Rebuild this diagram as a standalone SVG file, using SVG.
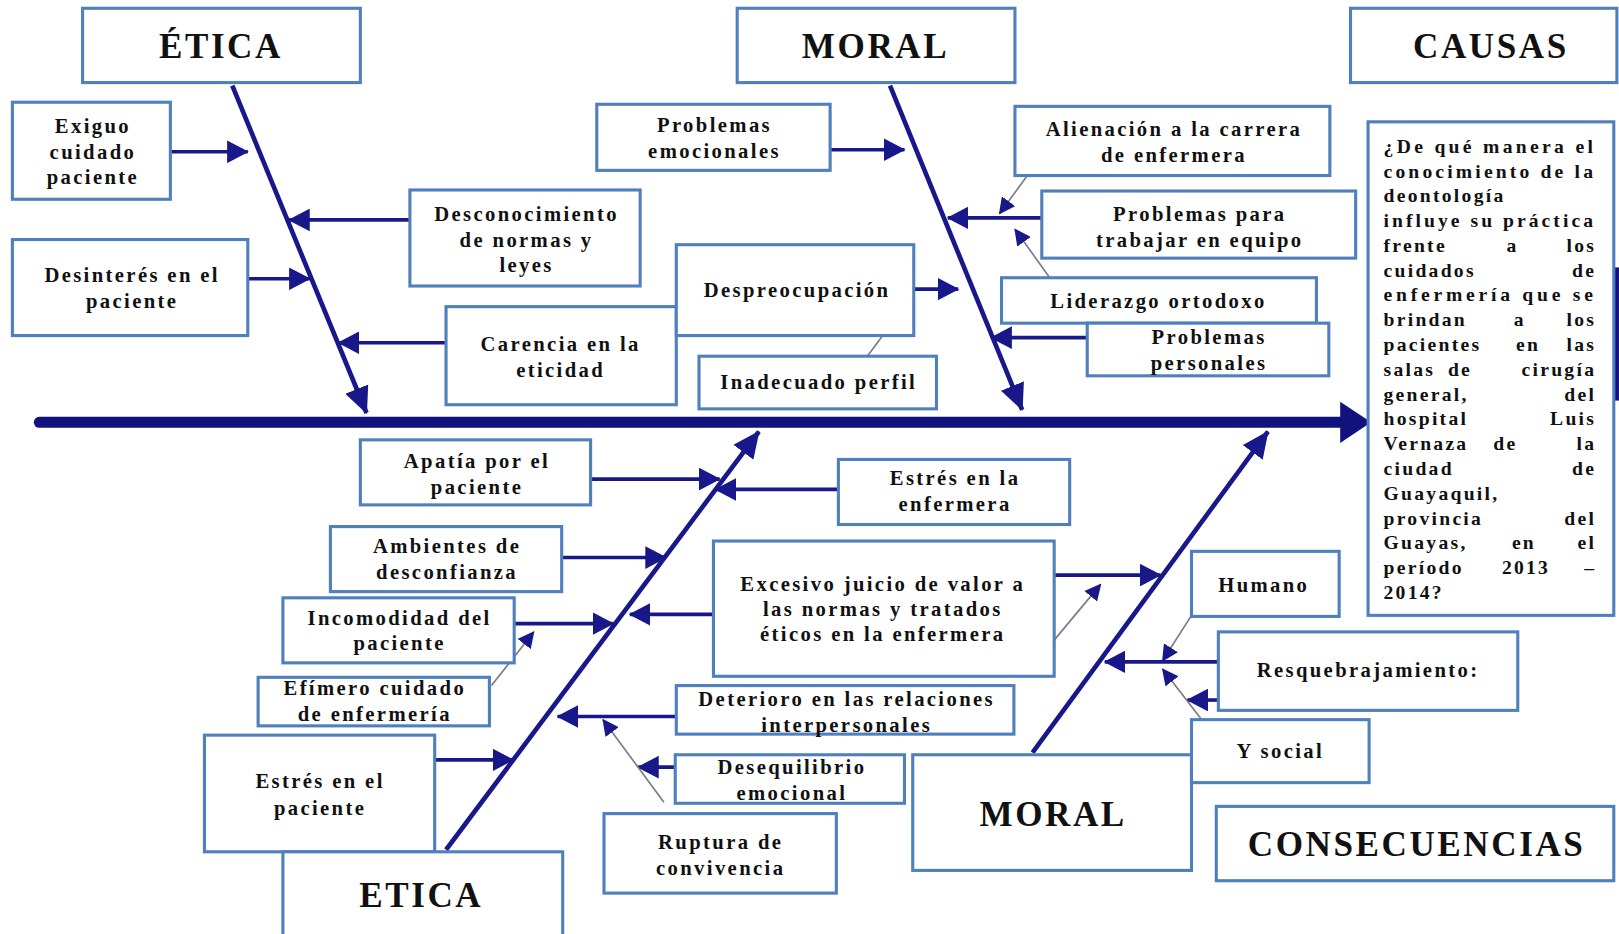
<svg xmlns="http://www.w3.org/2000/svg" width="1619" height="934" viewBox="0 0 1619 934">
<style>
.b{fill:#fff;stroke:#4f7fbd;stroke-width:3}
.t{font-family:"Liberation Serif","Times New Roman",serif;font-weight:bold;font-size:20px;letter-spacing:2.3px;fill:#111;text-anchor:middle}
.h{font-family:"Liberation Serif","Times New Roman",serif;font-weight:bold;font-size:34px;letter-spacing:2.5px;fill:#111;text-anchor:middle}
.q{font-family:"Liberation Serif","Times New Roman",serif;font-weight:bold;font-size:19px;letter-spacing:2.2px;fill:#111}
.br{fill:none;stroke:#18188a;stroke-width:3.5}
.sp{fill:none;stroke:#18188a;stroke-width:4.5}
.th{fill:none;stroke:#7a7a88;stroke-width:1.6}
</style>
<defs>
<marker id="a" markerUnits="userSpaceOnUse" viewBox="0 0 21 22" markerWidth="21" markerHeight="22" refX="20" refY="11" orient="auto"><path d="M0,0 L21,11 L0,22 z" fill="#18188a"/></marker>
<marker id="s" markerUnits="userSpaceOnUse" viewBox="0 0 26 24" markerWidth="26" markerHeight="24" refX="25" refY="12" orient="auto"><path d="M0,0 L26,12 L0,24 z" fill="#18188a"/></marker>
<marker id="m" markerUnits="userSpaceOnUse" viewBox="0 0 16 16" markerWidth="16" markerHeight="16" refX="15" refY="8" orient="auto"><path d="M0,0 L16,8 L0,16 z" fill="#18188a"/></marker>
</defs>
<rect width="1619" height="934" fill="#fff"/>
<g transform="scale(1.0325)">
<g id="connectors">
<path class="sp" d="M225,83 L355,400" marker-end="url(#s)"/>
<path class="sp" d="M862,83 L990,397" marker-end="url(#s)"/>
<path class="sp" d="M432,823 L735,418" marker-end="url(#s)"/>
<path class="sp" d="M1000,729 L1228,418" marker-end="url(#s)"/>
<path d="M38,409 H1302" fill="none" stroke="#12127e" stroke-width="10.5" stroke-linecap="round"/>
<polygon points="1298,389 1328,409 1298,429" fill="#12127e"/>
<path class="br" d="M165,147 H240" marker-end="url(#a)"/>
<path class="br" d="M397,213 H280" marker-end="url(#a)"/>
<path class="br" d="M240,270 H300" marker-end="url(#a)"/>
<path class="br" d="M432,332 H328" marker-end="url(#a)"/>
<path class="br" d="M804,145 H876" marker-end="url(#a)"/>
<path class="br" d="M1009,211 H918" marker-end="url(#a)"/>
<path class="br" d="M885,280 H928" marker-end="url(#a)"/>
<path class="br" d="M1053,327 H960" marker-end="url(#a)"/>
<path class="th" d="M995,170 L968,207" marker-end="url(#m)"/>
<path class="th" d="M1016,268 L983,222" marker-end="url(#m)"/>
<path class="th" d="M840,345 L855,325"/>
<path class="br" d="M572,464 H697" marker-end="url(#a)"/>
<path class="br" d="M812,474 H693" marker-end="url(#a)"/>
<path class="br" d="M544,540 H645" marker-end="url(#a)"/>
<path class="br" d="M498,604 H594" marker-end="url(#a)"/>
<path class="th" d="M476,664 L517,612" marker-end="url(#m)"/>
<path class="br" d="M691,595 H610" marker-end="url(#a)"/>
<path class="br" d="M1021,557 H1124" marker-end="url(#a)"/>
<path class="th" d="M1021,620 L1066,566" marker-end="url(#m)"/>
<path class="br" d="M655,694 H540" marker-end="url(#a)"/>
<path class="br" d="M654,743 H618" marker-end="url(#a)"/>
<path class="th" d="M643,777 L584,697" marker-end="url(#m)"/>
<path class="br" d="M421,736 H497" marker-end="url(#a)"/>
<path class="th" d="M1154,596 L1126,640" marker-end="url(#m)"/>
<path class="br" d="M1180,641 H1070" marker-end="url(#a)"/>
<path class="br" d="M1180,678 H1150" marker-end="url(#a)"/>
<path class="th" d="M1163,696 L1126,648" marker-end="url(#m)"/>
<rect x="1563" y="259" width="5" height="129" fill="#12127e"/>
</g>
<g id="etica-top"><rect class="b" x="80" y="8" width="269" height="72"/><text class="h" x="214" y="56">ÉTICA</text></g>
<g id="moral-top"><rect class="b" x="714" y="8" width="269" height="72"/><text class="h" x="848" y="56">MORAL</text></g>
<g id="causas"><rect class="b" x="1308" y="8" width="258" height="72"/><text class="h" x="1444" y="56">CAUSAS</text></g>
<g id="exiguo"><rect class="b" x="12" y="99" width="153" height="94"/><text class="t" x="90" y="129">Exiguo</text><text class="t" x="90" y="154">cuidado</text><text class="t" x="90" y="178">paciente</text></g>
<g id="desconocimiento"><rect class="b" x="397" y="184" width="223" height="93"/><text class="t" x="510" y="214">Desconocimiento</text><text class="t" x="510" y="239">de normas y</text><text class="t" x="510" y="263">leyes</text></g>
<g id="desinteres"><rect class="b" x="12" y="232" width="228" height="93"/><text class="t" x="128" y="273">Desinterés en el</text><text class="t" x="128" y="298">paciente</text></g>
<g id="carencia"><rect class="b" x="432" y="297" width="223" height="95"/><text class="t" x="543" y="340">Carencia  en la</text><text class="t" x="543" y="365">eticidad</text></g>
<g id="prob-emocionales"><rect class="b" x="578" y="101" width="226" height="64"/><text class="t" x="692" y="128">Problemas</text><text class="t" x="692" y="153">emocionales</text></g>
<g id="alienacion"><rect class="b" x="983" y="103" width="305" height="67"/><text class="t" x="1137" y="132">Alienación  a la carrera</text><text class="t" x="1137" y="157">de enfermera</text></g>
<g id="prob-trabajar"><rect class="b" x="1009" y="185" width="304" height="65"/><text class="t" x="1162" y="214">Problemas  para</text><text class="t" x="1162" y="239">trabajar  en equipo</text></g>
<g id="despreocupacion"><rect class="b" x="655" y="237" width="230" height="88"/><text class="t" x="772" y="288">Despreocupación</text></g>
<g id="liderazgo"><rect class="b" x="970" y="269" width="305" height="44"/><text class="t" x="1122" y="298">Liderazgo  ortodoxo</text></g>
<g id="prob-personales"><rect class="b" x="1053" y="313" width="234" height="51"/><text class="t" x="1171" y="333">Problemas</text><text class="t" x="1171" y="358">personales</text></g>
<g id="inadecuado"><rect class="b" x="677" y="345" width="230" height="51"/><text class="t" x="793" y="377">Inadecuado  perfil</text></g>
<g id="pregunta"><rect class="b" x="1325" y="118" width="238" height="478"/>
<text class="q" x="1340" y="148" textLength="205" lengthAdjust="spacing">¿De qué manera el</text>
<text class="q" x="1340" y="172" textLength="205" lengthAdjust="spacing">conocimiento de la</text>
<text class="q" x="1340" y="196">deontología</text>
<text class="q" x="1340" y="220" textLength="205" lengthAdjust="spacing">influye su práctica</text>
<text class="q" y="244"><tspan x="1340">frente</tspan><tspan x="1465" text-anchor="middle">a</tspan><tspan x="1546" text-anchor="end">los</tspan></text>
<text class="q" y="268"><tspan x="1340">cuidados</tspan><tspan x="1546" text-anchor="end">de</tspan></text>
<text class="q" x="1340" y="292" textLength="205" lengthAdjust="spacing">enfermería que se</text>
<text class="q" y="316"><tspan x="1340">brindan</tspan><tspan x="1472" text-anchor="middle">a</tspan><tspan x="1546" text-anchor="end">los</tspan></text>
<text class="q" y="340"><tspan x="1340">pacientes</tspan><tspan x="1480" text-anchor="middle">en</tspan><tspan x="1546" text-anchor="end">las</tspan></text>
<text class="q" y="364"><tspan x="1340">salas</tspan><tspan x="1414" text-anchor="middle">de</tspan><tspan x="1546" text-anchor="end">cirugía</tspan></text>
<text class="q" y="388"><tspan x="1340">general,</tspan><tspan x="1546" text-anchor="end">del</tspan></text>
<text class="q" y="412"><tspan x="1340">hospital</tspan><tspan x="1546" text-anchor="end">Luis</tspan></text>
<text class="q" y="436"><tspan x="1340">Vernaza</tspan><tspan x="1458" text-anchor="middle">de</tspan><tspan x="1546" text-anchor="end">la</tspan></text>
<text class="q" y="460"><tspan x="1340">ciudad</tspan><tspan x="1546" text-anchor="end">de</tspan></text>
<text class="q" x="1340" y="484">Guayaquil,</text>
<text class="q" y="508"><tspan x="1340">provincia</tspan><tspan x="1546" text-anchor="end">del</tspan></text>
<text class="q" y="532"><tspan x="1340">Guayas,</tspan><tspan x="1476" text-anchor="middle">en</tspan><tspan x="1546" text-anchor="end">el</tspan></text>
<text class="q" y="556"><tspan x="1340">período</tspan><tspan x="1478" text-anchor="middle">2013</tspan><tspan x="1546" text-anchor="end">–</tspan></text>
<text class="q" x="1340" y="580">2014?</text>
</g>
<g id="apatia"><rect class="b" x="349" y="426" width="223" height="63"/><text class="t" x="462" y="453">Apatía  por  el</text><text class="t" x="462" y="478">paciente</text></g>
<g id="estres-enfermera"><rect class="b" x="812" y="445" width="224" height="63"/><text class="t" x="925" y="470">Estrés en la</text><text class="t" x="925" y="495">enfermera</text></g>
<g id="ambientes"><rect class="b" x="320" y="510" width="224" height="63"/><text class="t" x="433" y="536">Ambientes  de</text><text class="t" x="433" y="561">desconfianza</text></g>
<g id="incomodidad"><rect class="b" x="274" y="579" width="224" height="63"/><text class="t" x="387" y="605">Incomodidad  del</text><text class="t" x="387" y="630">paciente</text></g>
<g id="efimero"><rect class="b" x="250" y="656" width="224" height="47"/><text class="t" x="363" y="673">Efímero  cuidado</text><text class="t" x="363" y="698">de enfermería</text></g>
<g id="excesivo"><rect class="b" x="691" y="524" width="330" height="131"/><text class="t" x="855" y="572">Excesivo juicio  de valor a</text><text class="t" x="855" y="597">las normas  y tratados</text><text class="t" x="855" y="621">éticos en la  enfermera</text></g>
<g id="deterioro"><rect class="b" x="655" y="664" width="327" height="47"/><text class="t" x="820" y="684">Deterioro en las relaciones</text><text class="t" x="820" y="709">interpersonales</text></g>
<g id="desequilibrio"><rect class="b" x="654" y="731" width="222" height="47"/><text class="t" x="767" y="750">Desequilibrio</text><text class="t" x="767" y="775">emocional</text></g>
<g id="estres-paciente"><rect class="b" x="198" y="712" width="223" height="113"/><text class="t" x="310" y="763">Estrés en el</text><text class="t" x="310" y="789">paciente</text></g>
<g id="etica-bottom"><rect class="b" x="274" y="825" width="271" height="95"/><text class="h" x="408" y="878">ETICA</text></g>
<g id="ruptura"><rect class="b" x="585" y="788" width="225" height="77"/><text class="t" x="698" y="822">Ruptura  de</text><text class="t" x="698" y="847">convivencia</text></g>
<g id="moral-bottom"><rect class="b" x="884" y="731" width="270" height="112"/><text class="h" x="1020" y="800">MORAL</text></g>
<g id="humano"><rect class="b" x="1154" y="534" width="143" height="63"/><text class="t" x="1224" y="573">Humano</text></g>
<g id="resquebrajamiento"><rect class="b" x="1180" y="612" width="290" height="76"/><text class="t" x="1325" y="656">Resquebrajamiento:</text></g>
<g id="y-social"><rect class="b" x="1154" y="697" width="172" height="61"/><text class="t" x="1240" y="734">Y social</text></g>
<g id="consecuencias"><rect class="b" x="1178" y="781" width="385" height="72"/><text class="h" x="1372" y="829">CONSECUENCIAS</text></g>
</g>
</svg>
